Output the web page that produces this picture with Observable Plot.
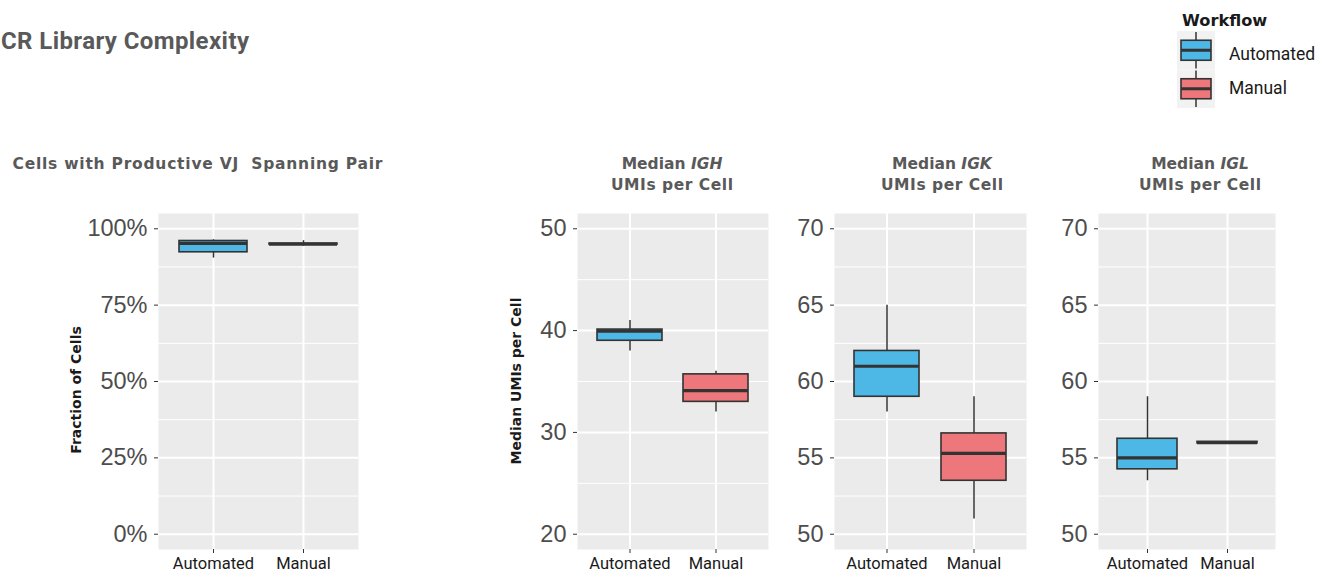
<!DOCTYPE html>
<html>
<head>
<meta charset="utf-8">
<script src="https://cdn.jsdelivr.net/npm/d3@7"></script>
<script src="https://cdn.jsdelivr.net/npm/@observablehq/plot@0.6"></script>
<style>
  html, body { margin: 0; padding: 0; background: #fff; }
  #chart { position: relative; width: 1331px; height: 573px; overflow: hidden; background: #fff; }
  #chart svg.panel { position: absolute; }
  #overlay { position: absolute; left: 0; top: 0; }
</style>
</head>
<body>
<div id="chart"></div>
<script>
// ---------------- data ----------------
const workflows = ["Automated", "Manual"];
const workflowColors = ["#4DB8E5", "#EE777B"];
const statNames = ["lower", "q1", "median", "q3", "upper"];

// box statistics [lower whisker, Q1, median, Q3, upper whisker]
const vjAutomated = [90.4, 92.3, 95.2, 96.0, 96.4];
const vjManual = [94.3, 94.85, 95.0, 95.15, 96.1];
const ighAutomated = [38.0, 39.0, 39.95, 40.1, 41.0];
const ighManual = [32.0, 33.0, 34.1, 35.7, 36.0];
const igkAutomated = [58.0, 59.0, 61.0, 62.0, 65.0];
const igkManual = [51.0, 53.5, 55.3, 56.6, 59.0];
const iglAutomated = [53.5, 54.25, 55.0, 56.25, 59.0];
const iglManual = [56.0, 55.95, 56.0, 56.05, 56.0];

// tick values
const vjTicks = [0, 25, 50, 75, 100];
const vjMinor = [12.5, 37.5, 62.5, 87.5];
const ighTicks = [20, 30, 40, 50];
const ighMinor = [25, 35, 45];
const iglTicks = [50, 55, 60, 65, 70];
const iglMinor = [52.5, 57.5, 62.5, 67.5];

// text
const mainTitle = "CR Library Complexity";
const legendTitle = "Workflow";
const vjTitle = "Cells with Productive VJ\u00a0 Spanning Pair";
const umiTitleGenes = ["IGH", "IGK", "IGL"];
const vjAxisTitle = "Fraction of Cells";
const umiAxisTitle = "Median UMIs per Cell";

// ---------------- layout ----------------
const FT = 213, FB = 549;     // panel frame top/bottom
const ML = 120, MT = 10, MB = 24, MR = 2;
const chart = document.getElementById("chart");

function toRows(auto, manual) {
  return workflows.map((w, i) => {
    const s = i === 0 ? auto : manual;
    const row = {workflow: w};
    statNames.forEach((n, j) => row[n] = s[j]);
    return row;
  });
}

function panel({left, right, rows, ticks, minor, fmt}) {
  const ext = ticks[ticks.length - 1] - ticks[0];
  const domain = [ticks[0] - 0.05 * ext, ticks[ticks.length - 1] + 0.05 * ext];
  const svg = Plot.plot({
    width: ML + (right - left) + MR,
    height: MT + (FB - FT) + MB,
    marginLeft: ML, marginRight: MR, marginTop: MT, marginBottom: MB,
    style: {background: "transparent", overflow: "visible", fontFamily: "Roboto"},
    x: {type: "band", domain: workflows, paddingInner: 0.25, paddingOuter: 0.225, align: 0.5, axis: null},
    y: {domain, axis: null},
    color: {domain: workflows, range: workflowColors},
    marks: [
      Plot.frame({fill: "#EBEBEB", stroke: "none"}),
      Plot.ruleY(minor, {stroke: "#FFFFFF", strokeWidth: 1}),
      Plot.ruleY(ticks, {stroke: "#FFFFFF", strokeWidth: 2}),
      Plot.ruleX(workflows, {x: d => d, stroke: "#FFFFFF", strokeWidth: 2}),
      Plot.ruleX(rows, {x: "workflow", y1: "lower", y2: "upper", stroke: "#333333", strokeWidth: 1.5}),
      Plot.barY(rows, {x: "workflow", y1: "q1", y2: "q3", fill: "workflow", stroke: "#333333", strokeWidth: 1.6}),
      Plot.tickY(rows, {x: "workflow", y: "median", stroke: "#333333", strokeWidth: 3.2}),
      Plot.axisY(ticks, {tickSize: 4, tickPadding: 7, tickFormat: fmt, fontSize: 23.5,
        fontFamily: "Liberation Sans", stroke: "#333333", fill: "#4D4D4D", label: null}),
      Plot.axisX({tickSize: 4, tickPadding: 4, fontSize: 16.5, fontFamily: "Roboto",
        stroke: "#333333", fill: "#1A1A1A", label: null})
    ]
  });
  svg.classList.add("panel");
  svg.style.left = (left - ML) + "px";
  svg.style.top = (FT - MT) + "px";
  chart.appendChild(svg);
}

panel({left: 158, right: 358, rows: toRows(vjAutomated, vjManual), ticks: vjTicks, minor: vjMinor, fmt: d => d + "%"});
panel({left: 577, right: 768, rows: toRows(ighAutomated, ighManual), ticks: ighTicks, minor: ighMinor, fmt: d => String(d)});
panel({left: 834, right: 1026, rows: toRows(igkAutomated, igkManual), ticks: iglTicks, minor: iglMinor, fmt: d => String(d)});
panel({left: 1098, right: 1275, rows: toRows(iglAutomated, iglManual), ticks: iglTicks, minor: iglMinor, fmt: d => String(d)});

// ---------------- overlay text & legend ----------------
const ns = "http://www.w3.org/2000/svg";
const ov = document.createElementNS(ns, "svg");
ov.setAttribute("id", "overlay");
ov.setAttribute("width", 1331);
ov.setAttribute("height", 573);
chart.appendChild(ov);

function el(tag, attrs, parent = ov) {
  const e = document.createElementNS(ns, tag);
  for (const k in attrs) e.setAttribute(k, attrs[k]);
  parent.appendChild(e);
  return e;
}
function txt(str, attrs, parent = ov) {
  const t = el("text", attrs, parent);
  t.textContent = str;
  return t;
}

txt(mainTitle, {"font-family": "Roboto", "font-weight": 700, fill: "#595959", "font-size": 24,
  x: 1, y: 49, textLength: 248, lengthAdjust: "spacing"});

const ptStyle = {"font-family": "DejaVu Sans", "font-weight": 700, fill: "#595959", "font-size": 15.5,
  "text-anchor": "middle", lengthAdjust: "spacing"};
txt(vjTitle, {...ptStyle, x: 197.5, y: 169, textLength: 370});
const umiCenters = [672, 942, 1200];
umiTitleGenes.forEach((g, i) => {
  const t = el("text", {...ptStyle, x: umiCenters[i], y: 169});
  const a = el("tspan", {}, t); a.textContent = "Median ";
  const b = el("tspan", {"font-style": "italic"}, t); b.textContent = g;
  txt("UMIs per Cell", {...ptStyle, x: umiCenters[i], y: 190, textLength: 122});
});

const axStyle = {"font-family": "DejaVu Sans", "font-weight": 700, "font-size": 14, fill: "#1A1A1A",
  "text-anchor": "middle", "dominant-baseline": "central"};
txt(vjAxisTitle, {...axStyle, transform: "translate(75.5,390) rotate(-90)"});
txt(umiAxisTitle, {...axStyle, transform: "translate(515.5,381) rotate(-90)"});

// legend
txt(legendTitle, {"font-family": "DejaVu Sans", "font-weight": 700, "font-size": 16.2, fill: "#1A1A1A", x: 1182, y: 26});
const keyTop = 31, keyH = 38.5, keyX = 1177, keyW = 38;
const labelY = [54, 88];
workflows.forEach((w, i) => {
  const y0 = keyTop + i * keyH;
  const cx = keyX + keyW / 2, cy = y0 + keyH / 2;
  el("rect", {x: keyX, y: y0, width: keyW, height: keyH, fill: "#F2F2F2"});
  el("line", {x1: cx, x2: cx, y1: y0 + 1, y2: y0 + keyH - 1, stroke: "#333333", "stroke-width": 1.5});
  el("rect", {x: keyX + 4, y: cy - 10, width: keyW - 8, height: 20, fill: workflowColors[i], stroke: "#333333", "stroke-width": 1.6});
  el("line", {x1: keyX + 4, x2: keyX + keyW - 4, y1: cy, y2: cy, stroke: "#333333", "stroke-width": 3});
  txt(w, {"font-family": "Roboto", "font-size": 17.5, fill: "#1A1A1A", x: 1229, y: labelY[i], "dominant-baseline": "central"});
});
</script>
</body>
</html>
